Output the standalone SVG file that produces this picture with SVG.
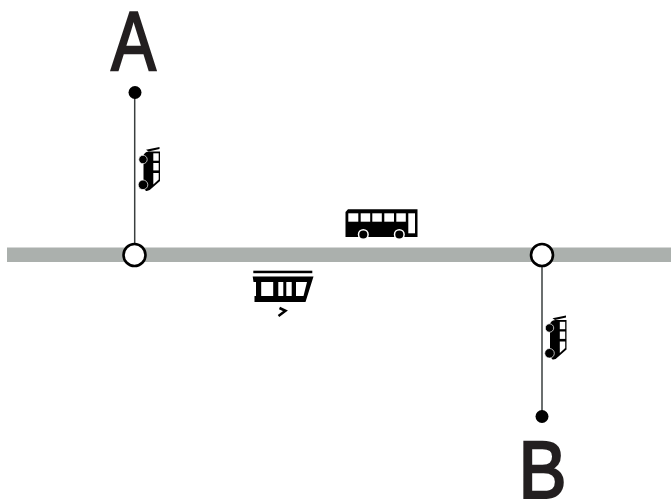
<svg xmlns="http://www.w3.org/2000/svg" width="671" height="499" viewBox="0 0 671 499">
<style>
.label{font-family:"Liberation Sans",Arial,sans-serif;fill:#231f20;stroke:#231f20;stroke-width:2.4px}
.link{stroke:#3a3f3f;stroke-width:1.5;fill:none}
.stop{fill:#fff;stroke:#000;stroke-width:2.6}
.w{fill:#fff}
</style>
<defs>
<g id="van">
<path d="M146 149.800 L159.500 147 V149 L148.500 151.500Z" fill="#000"/>
<path d="M145 153 Q146 151.500 149 151.500 H160 V181 L152 188 Q149 191.500 146 191 L143.500 188 V155Z" fill="#000"/>
<circle cx="143" cy="159.500" r="4.200" fill="#000" stroke="#fff" stroke-width="0.700"/>
<circle cx="143" cy="184.800" r="4.800" fill="#000" stroke="#fff" stroke-width="0.700"/>
<rect class="w" x="153.300" y="153.300" width="5.400" height="7.400"/>
<rect class="w" x="153.300" y="163" width="5.400" height="7.400"/>
<path class="w" d="M153.300 173 H158.700 V179.500 L153.300 184.500Z"/>
</g>
</defs>
<g id="connectors">
<rect x="7" y="247.500" width="664" height="14.500" fill="#abb0ad"/>
<line class="link" x1="134.700" y1="92" x2="134.700" y2="244"/>
<line class="link" x1="542" y1="266" x2="542" y2="417"/>
</g>
<g id="node-a">
<text class="label" font-size="84" x="111.200" y="69.800" textLength="44.600" lengthAdjust="spacingAndGlyphs">A</text>
<circle cx="135" cy="92.500" r="6.500" fill="#000"/>
</g>
<g id="node-stop-1"><circle class="stop" cx="134.500" cy="255" r="11"/></g>
<g id="node-stop-2"><circle class="stop" cx="542" cy="255" r="11"/></g>
<g id="node-b">
<text class="label" font-size="81" x="518.500" y="497.800" textLength="48" lengthAdjust="spacingAndGlyphs">B</text>
<circle cx="542" cy="416.500" r="6.500" fill="#000"/>
</g>
<g id="node-van-1"><use href="#van"/></g>
<g id="node-van-2"><use href="#van" x="406.500" y="168.500"/></g>
<g id="node-bus">
<path d="M348 209.300 H417.500 V237 H345.500 V212Z" fill="#000"/>
<rect class="w" x="348.300" y="213.300" width="10" height="8.400"/>
<rect class="w" x="360.700" y="213.300" width="9.500" height="8.400"/>
<rect class="w" x="372.300" y="213.300" width="9.500" height="8.400"/>
<rect class="w" x="384.300" y="213.300" width="9.700" height="8.400"/>
<rect class="w" x="396.300" y="213.300" width="9.500" height="8.400"/>
<rect class="w" x="408.300" y="213.300" width="6.700" height="20"/>
<circle cx="363.300" cy="234.500" r="4.800" fill="#000" stroke="#fff" stroke-width="1.500"/>
<circle cx="399.300" cy="234.500" r="4.800" fill="#000" stroke="#fff" stroke-width="1.500"/>
</g>
<g id="node-tram">
<rect x="253.300" y="270.700" width="59" height="2.500" fill="#000"/>
<path d="M252.700 276.500 H313.500 L305.500 302 H254.500 V296 H256 V282 H253.500Z" fill="#000"/>
<rect class="w" x="261.200" y="282" width="12" height="14"/>
<rect class="w" x="278.300" y="282" width="5" height="14"/>
<rect class="w" x="286.300" y="282" width="5.400" height="14"/>
<path class="w" d="M296 282 H307 L303.500 296 H296Z"/>
<path d="M279.500 308 L285.500 310.800 L278.500 316" fill="none" stroke="#000" stroke-width="2.500"/>
</g>
</svg>
